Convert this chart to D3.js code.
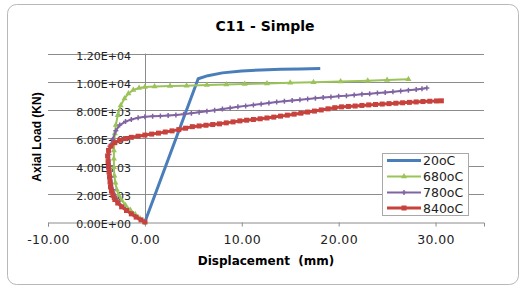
<!DOCTYPE html>
<html>
<head>
<meta charset="utf-8">
<script src="https://cdn.jsdelivr.net/npm/d3@7"></script>
<style>
  html, body { margin: 0; padding: 0; background: #fff; }
  svg { display: block; }
</style>
</head>
<body>
<div class="chart"></div>
<script>
// values: displacement (mm) / axial load (KN)
const disp20 = [0, 5.5, 6.5, 8, 10, 12, 14, 16, 18.1];
const load20 = [0, 10200, 10420, 10620, 10760, 10830, 10870, 10900, 10930];

const disp680 = [0, -0.5, -1.0, -1.5, -2.0, -2.4, -2.7, -2.9, -3.05, -3.15, -3.2, -3.2, -3.2, -3.15, -3.1, -3.0, -2.8, -2.5, -2.1, -1.7, -1.2, -0.6, 0, 1.0, 2.6, 4.3, 6.4, 8.4, 10.3, 12.6, 15.0, 17.4, 20.2, 23.0, 25.0, 27.2];
const load680 = [0, 250, 550, 850, 1200, 1550, 1900, 2300, 2800, 3300, 3900, 4500, 5100, 5700, 6300, 6900, 7600, 8300, 8800, 9150, 9400, 9550, 9620, 9650, 9680, 9710, 9750, 9790, 9830, 9870, 9910, 9950, 10000, 10060, 10110, 10170];

const disp780 = [0, -1.0, -2.0, -2.8, -3.3, -3.5, -3.6, -3.7, -3.6, -3.3, -3.0, -2.6, -2.0, -1.4, -0.7, 0, 0.8, 1.6, 2.4, 3.2, 4.0, 4.8, 5.6, 6.4, 7.2, 8.0, 8.8, 9.6, 10.4, 11.2, 12.0, 12.8, 13.6, 14.4, 15.2, 16.0, 16.8, 17.6, 18.4, 19.2, 20.0, 20.8, 21.6, 22.4, 23.2, 24.0, 24.8, 25.6, 26.4, 27.2, 28.0, 28.6, 29.1];
const load780 = [0, 400, 900, 1500, 2300, 3200, 4000, 4800, 5400, 5900, 6500, 6900, 7150, 7300, 7420, 7500, 7530, 7550, 7580, 7620, 7670, 7740, 7810, 7880, 7960, 8040, 8120, 8200, 8270, 8340, 8410, 8470, 8540, 8600, 8660, 8710, 8760, 8810, 8860, 8900, 8950, 9000, 9050, 9090, 9140, 9180, 9230, 9280, 9330, 9380, 9430, 9490, 9540];

const disp840 = [0, -0.4, -0.9, -1.4, -1.9, -2.4, -2.8, -3.1, -3.3, -3.45, -3.55, -3.6, -3.65, -3.7, -3.75, -3.8, -3.85, -3.75, -3.5, -3.1, -2.6, -2.0, -1.4, -0.7,
  0, 0.7, 1.4, 2.1, 2.8, 3.5, 4.2, 4.9, 5.6, 6.3, 7.0, 7.7, 8.4, 9.1, 9.8, 10.5, 11.2, 11.9, 12.6, 13.3, 14.0, 14.7, 15.4, 16.1, 16.8, 17.5, 18.2, 18.9, 19.6, 20.3, 21.0, 21.7, 22.4, 23.1, 23.8, 24.5, 25.2, 25.9, 26.6, 27.3, 28.0, 28.7, 29.4, 30.1, 30.6];
const load840 = [0, 150, 350, 580, 820, 1080, 1350, 1600, 1900, 2200, 2500, 2850, 3200, 3550, 3900, 4300, 4700, 5100, 5400, 5650, 5820, 5940, 6030, 6110,
  6190, 6260, 6330, 6410, 6490, 6580, 6680, 6790, 6840, 6890, 6940, 6990, 7060, 7130, 7200, 7250, 7300, 7350, 7410, 7470, 7540, 7610, 7680, 7750, 7830, 7900, 7980, 8060, 8140, 8200, 8230, 8260, 8300, 8340, 8370, 8400, 8430, 8460, 8490, 8520, 8550, 8580, 8600, 8620, 8630];

const seriesNames = ["20oC", "680oC", "780oC", "840oC"];
const seriesColors = ["#4a7ebb", "#9bc35a", "#8064a2", "#c8423d"];
const xTicks = [-10, 0, 10, 20, 30];
const yTicks = [0, 2000, 4000, 6000, 8000, 10000, 12000];

const width = 527, height = 288;

const series = [
  { name: seriesNames[0], color: seriesColors[0], marker: "none", w: 3, pts: disp20.map((d, i) => [d, load20[i]]) },
  { name: seriesNames[1], color: seriesColors[1], marker: "tri", w: 2, pts: disp680.map((d, i) => [d, load680[i]]) },
  { name: seriesNames[2], color: seriesColors[2], marker: "plus", w: 2, pts: disp780.map((d, i) => [d, load780[i]]) },
  { name: seriesNames[3], color: seriesColors[3], marker: "sq", w: 3, pts: disp840.map((d, i) => [d, load840[i]]) }
];

const svg = d3.select('.chart').append('svg')
  .attr('width', width)
  .attr('height', height);

// outer frame
svg.append('rect')
  .attr('x', 7.5).attr('y', 4.5)
  .attr('width', 511).attr('height', 280)
  .attr('rx', 9)
  .attr('fill', '#fff')
  .attr('stroke', '#b8b8b8')
  .attr('stroke-width', 1);

const x = d3.scaleLinear().domain([-10, 35]).range([48, 484]);
const y = d3.scaleLinear().domain([0, 12000]).range([222, 53.5]);

// horizontal gridlines
svg.append('g')
  .selectAll('line')
  .data(yTicks.slice(1))
  .join('line')
  .attr('x1', x(-10)).attr('x2', x(35))
  .attr('y1', d => Math.round(y(d)) + 0.5)
  .attr('y2', d => Math.round(y(d)) + 0.5)
  .attr('stroke', '#8c8c8c');

// vertical axis at x = 0
svg.append('line')
  .attr('x1', Math.round(x(0)) + 0.5).attr('x2', Math.round(x(0)) + 0.5)
  .attr('y1', y(12000)).attr('y2', y(0))
  .attr('stroke', '#8c8c8c');

// horizontal axis (plain hyphen for the minus, like Excel)
const xAxis = d3.axisBottom(x)
  .tickValues(xTicks)
  .tickSize(4)
  .tickFormat(d => d.toFixed(2));

const gx = svg.append('g')
  .attr('transform', `translate(0,${Math.round(y(0)) + 0.5})`)
  .call(xAxis);
gx.select('.domain').attr('stroke', '#8c8c8c');
gx.selectAll('.tick line').attr('stroke', '#8c8c8c');
gx.selectAll('.tick text')
  .attr('y', 13)
  .attr('fill', '#222')
  .style('font-family', 'DejaVu Sans')
  .style('font-size', '12.5px')
  .style('letter-spacing', '0.4px');

// y tick labels, Excel style scientific
const sci = v => {
  if (v === 0) return '0.00E+00';
  const e = Math.floor(Math.log10(v));
  return (v / 10 ** e).toFixed(2) + 'E+' + String(e).padStart(2, '0');
};

svg.append('g')
  .selectAll('text')
  .data(yTicks)
  .join('text')
  .attr('x', x(0) - 14)
  .attr('y', d => y(d) + 6)
  .attr('text-anchor', 'end')
  .attr('fill', '#222')
  .style('font-family', 'DejaVu Sans')
  .style('font-size', '11px')
  .text(sci);

// series
const line = d3.line().x(d => x(d[0])).y(d => y(d[1]));

const tri = d3.symbol().type(d3.symbolTriangle).size(16);
const drawMarker = (g, s, px, py) => {
  if (s.marker === 'tri') {
    g.append('path').attr('d', tri()).attr('transform', `translate(${px},${py})`).attr('fill', s.color);
  } else if (s.marker === 'plus') {
    g.append('path')
      .attr('d', `M${px - 2.5},${py}H${px + 2.5}M${px},${py - 2.5}V${py + 2.5}`)
      .attr('stroke', s.color).attr('stroke-width', 1.5);
  } else if (s.marker === 'sq') {
    g.append('rect').attr('x', px - 2.5).attr('y', py - 2.5).attr('width', 5).attr('height', 5).attr('fill', s.color);
  }
};

series.forEach(s => {
  const g = svg.append('g');
  g.append('path')
    .datum(s.pts)
    .attr('d', line)
    .attr('fill', 'none')
    .attr('stroke', s.color)
    .attr('stroke-width', s.w)
    .attr('stroke-linejoin', 'round');
  s.pts.forEach(p => drawMarker(g, s, x(p[0]), y(p[1])));
});

// legend
const lg = svg.append('g');
lg.append('rect')
  .attr('x', 382.5).attr('y', 153.5)
  .attr('width', 86).attr('height', 62)
  .attr('fill', '#fff')
  .attr('stroke', '#a8a8a8');

const legendY = [160.5, 176.5, 192.5, 208];
series.forEach((s, i) => {
  lg.append('line')
    .attr('x1', 387).attr('x2', 421)
    .attr('y1', legendY[i]).attr('y2', legendY[i])
    .attr('stroke', s.color)
    .attr('stroke-width', s.w);
  drawMarker(lg, s, 404, legendY[i]);
  lg.append('text')
    .attr('x', 423)
    .attr('y', legendY[i] + 4.5)
    .attr('fill', '#222')
    .style('font-family', 'DejaVu Sans')
    .style('font-size', '12.5px')
    .text(s.name);
});

// titles
svg.append('text')
  .attr('x', 265).attr('y', 31)
  .attr('text-anchor', 'middle')
  .style('font-family', 'DejaVu Sans')
  .style('font-weight', 'bold')
  .style('font-size', '14px')
  .text('C11 - Simple');

svg.append('text')
  .attr('x', 266).attr('y', 265)
  .attr('text-anchor', 'middle')
  .style('font-family', 'DejaVu Sans')
  .style('font-weight', 'bold')
  .style('font-size', '12px')
  .style('white-space', 'pre')
  .text('Displacement  (mm)');

svg.append('text')
  .attr('transform', 'translate(41,137) rotate(-90)')
  .attr('text-anchor', 'middle')
  .style('font-family', 'Liberation Sans')
  .style('font-weight', 'bold')
  .style('font-size', '12px')
  .text('Axial Load (KN)');
</script>
</body>
</html>
